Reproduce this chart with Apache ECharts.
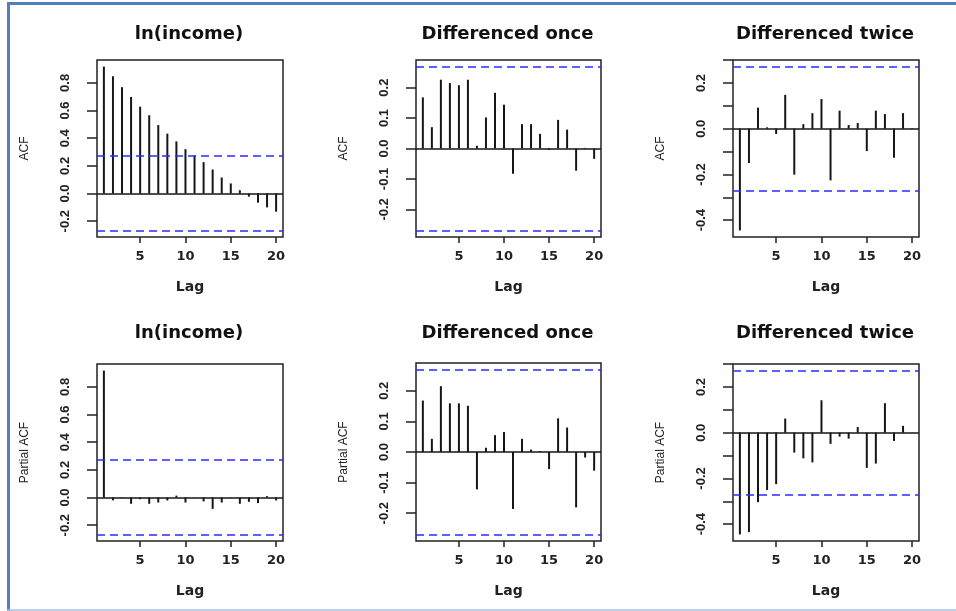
<!DOCTYPE html>
<html>
<head>
<meta charset="utf-8">
<script src="https://cdn.jsdelivr.net/npm/echarts@6/dist/echarts.min.js"></script>
<style>
  html, body { margin: 0; background: #fff; }
  #chart { width: 956px; height: 611px; }
</style>
</head>
<body>
<div id="chart"></div>
<script>
// lags shown on every panel
const lags = [1, 2, 3, 4, 5, 6, 7, 8, 9, 10, 11, 12, 13, 14, 15, 16, 17, 18, 19, 20];

// ACF (top row)
const acfLog   = [0.918, 0.848, 0.769, 0.698, 0.628, 0.566, 0.495, 0.433, 0.377, 0.321,
                  0.276, 0.227, 0.174, 0.116, 0.073, 0.024, -0.022, -0.066, -0.100, -0.131];
const acfDiff1 = [0.168, 0.070, 0.226, 0.215, 0.208, 0.226, 0.009, 0.102, 0.183, 0.144,
                  -0.083, 0.080, 0.080, 0.048, -0.005, 0.094, 0.062, -0.073, 0.002, -0.034];
const acfDiff2 = [-0.445, -0.150, 0.092, 0.006, -0.023, 0.148, -0.201, 0.020, 0.068, 0.130,
                  -0.226, 0.079, 0.016, 0.025, -0.098, 0.079, 0.064, -0.127, 0.068, 0.002];

// PACF (bottom row)
const pacfLog   = [0.918, -0.020, -0.003, -0.045, -0.012, -0.045, -0.036, -0.021, 0.014, -0.036,
                   -0.002, -0.028, -0.082, -0.036, 0.002, -0.045, -0.031, -0.040, 0.010, -0.021];
const pacfDiff1 = [0.168, 0.043, 0.215, 0.159, 0.159, 0.151, -0.122, 0.014, 0.055, 0.065,
                   -0.186, 0.043, 0.008, 0.003, -0.056, 0.110, 0.080, -0.181, -0.018, -0.061];
const pacfDiff2 = [-0.445, -0.435, -0.304, -0.251, -0.225, 0.062, -0.087, -0.112, -0.130, 0.142,
                   -0.049, -0.017, -0.026, 0.025, -0.154, -0.135, 0.129, -0.036, 0.030, 0.001];

// 95% bounds (+/-) for each column
const boundLog = 0.2667;
const boundDiff1 = 0.2692;
const boundDiff2 = 0.2718;

// axis ticks / labels
const xTicks = [5, 10, 15, 20];
const yTicksLog = [-0.2, 0, 0.2, 0.4, 0.6, 0.8];
const yTicksDiff1 = [-0.2, -0.1, 0, 0.1, 0.2];
const yTicksDiff2 = [-0.4, -0.3, -0.2, -0.1, 0, 0.1, 0.2, 0.3];
const yLabelsDiff2 = [-0.4, -0.2, 0, 0.2];

const panels = [
  { title: 'ln(income)',        ylab: 'ACF',         vals: acfLog,    clim: boundLog,   ticks: yTicksLog,   labels: yTicksLog,    box: [97, 60, 186, 177] },
  { title: 'Differenced once',  ylab: 'ACF',         vals: acfDiff1,  clim: boundDiff1, ticks: yTicksDiff1, labels: yTicksDiff1,  box: [416, 60, 185, 177] },
  { title: 'Differenced twice', ylab: 'ACF',         vals: acfDiff2,  clim: boundDiff2, ticks: yTicksDiff2, labels: yLabelsDiff2, box: [733, 60, 186, 177] },
  { title: 'ln(income)',        ylab: 'Partial ACF', vals: pacfLog,   clim: boundLog,   ticks: yTicksLog,   labels: yTicksLog,    box: [97, 364, 186, 177] },
  { title: 'Differenced once',  ylab: 'Partial ACF', vals: pacfDiff1, clim: boundDiff1, ticks: yTicksDiff1, labels: yTicksDiff1,  box: [416, 363, 185, 178] },
  { title: 'Differenced twice', ylab: 'Partial ACF', vals: pacfDiff2, clim: boundDiff2, ticks: yTicksDiff2, labels: yLabelsDiff2, box: [733, 364, 186, 177] }
];

const ink = '#161616';
const blue = '#2b2bff';

const grid = [], xAxis = [], yAxis = [], series = [], graphic = [];

panels.forEach((p, i) => {
  const [left, top, width, height] = p.box;
  // R style limits: range of data and bounds, widened by 4%
  const lo = Math.min(-p.clim, Math.min(...p.vals));
  const hi = Math.max(p.clim, Math.max(...p.vals));
  const pad = (hi - lo) * 0.04;
  const xPad = (lags[lags.length - 1] - lags[0]) * 0.04;

  grid.push({ left, top, width, height, show: true, borderColor: '#222', borderWidth: 1.5, backgroundColor: 'transparent' });

  xAxis.push({
    type: 'value', gridIndex: i,
    min: lags[0] - xPad, max: lags[lags.length - 1] + xPad,
    name: 'Lag', nameLocation: 'middle', nameGap: 43,
    nameTextStyle: { fontFamily: 'DejaVu Sans', fontWeight: 'bold', fontSize: 14, color: '#222' },
    axisLine: { show: false, onZero: false },
    splitLine: { show: false },
    axisTick: { show: true, customValues: xTicks, length: 6, lineStyle: { color: '#222', width: 1.5 } },
    axisLabel: { customValues: xTicks, margin: 13, fontFamily: 'DejaVu Sans', fontWeight: 'bold', fontSize: 13, color: '#222' }
  });

  yAxis.push({
    type: 'value', gridIndex: i,
    min: lo - pad, max: hi + pad,
    name: p.ylab, nameLocation: 'middle', nameGap: 66, nameRotate: 90,
    nameTextStyle: { fontFamily: 'Liberation Sans', fontSize: 12, color: '#222' },
    axisLine: { show: false, onZero: false },
    splitLine: { show: false },
    axisTick: { show: true, customValues: p.ticks, length: 10, lineStyle: { color: '#222', width: 1.5 } },
    axisLabel: {
      customValues: p.labels, rotate: 90, margin: 25,
      fontFamily: 'Liberation Sans', fontWeight: 'bold', fontSize: 13, color: '#222',
      formatter: v => v.toFixed(1)
    }
  });

  series.push({
    type: 'bar', xAxisIndex: i, yAxisIndex: i,
    data: lags.map((l, k) => [l, p.vals[k]]),
    barWidth: 2,
    itemStyle: { color: ink },
    silent: true,
    markLine: {
      silent: true, symbol: 'none', label: { show: false },
      data: [
        { yAxis: 0, lineStyle: { color: ink, type: 'solid', width: 1.5 } },
        { yAxis: p.clim, lineStyle: { color: blue, type: [8, 5], width: 1.5 } },
        { yAxis: -p.clim, lineStyle: { color: blue, type: [8, 5], width: 1.5 } }
      ]
    }
  });

  graphic.push({
    type: 'text', x: left + width / 2 - 1, y: i < 3 ? 34.5 : 333,
    style: { text: p.title, fill: '#111', fontFamily: 'DejaVu Sans', fontWeight: 'bold', fontSize: 18, align: 'center', verticalAlign: 'middle' }
  });
});

// picture frame
graphic.push({ type: 'line', shape: { x1: 8.5, y1: 3, x2: 8.5, y2: 611 }, style: { stroke: '#4f81bd', lineWidth: 3 } });
graphic.push({ type: 'line', shape: { x1: 7, y1: 3.5, x2: 956, y2: 3.5 }, style: { stroke: '#4f81bd', lineWidth: 3 } });
graphic.push({ type: 'line', shape: { x1: 7, y1: 610, x2: 956, y2: 610 }, style: { stroke: '#a9c1e0', lineWidth: 1.5 } });

const chart = echarts.init(document.getElementById('chart'), null, { renderer: 'canvas' });
chart.setOption({
  animation: false,
  backgroundColor: '#fff',
  grid, xAxis, yAxis, series, graphic
});
</script>
</body>
</html>
